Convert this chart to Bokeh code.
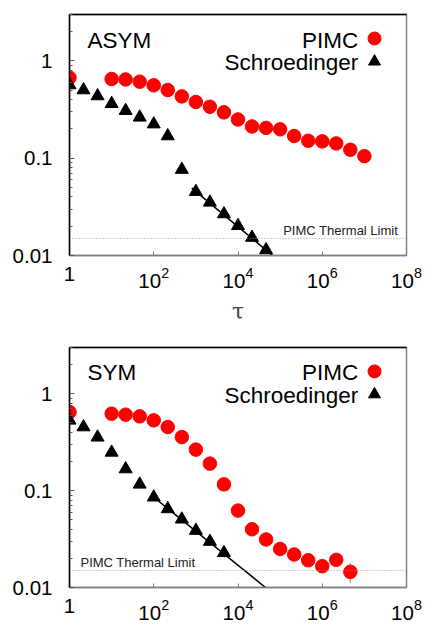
from bokeh.plotting import figure
from bokeh.layouts import column
from bokeh.models import FixedTicker, LogTickFormatter, Span, LinearAxis
from bokeh.core.properties import value
from bokeh.embed import file_html
from bokeh.resources import INLINE

FONT = "Liberation Sans"

# ---------------- data ----------------
tau_pimc_asym = [1, 10, 21.5, 46.4, 100, 215, 464, 1000, 2150, 4640, 1e4, 2.15e4,
                 4.64e4, 1e5, 2.15e5, 4.64e5, 1e6, 2.15e6, 4.64e6, 1e7]
pimc_asym = [0.673, 0.652, 0.645, 0.612, 0.561, 0.502, 0.432, 0.378, 0.338, 0.296,
             0.250, 0.212, 0.205, 0.198, 0.169, 0.151, 0.149, 0.142, 0.122, 0.105]

tau_sch_asym = [1, 2.15, 4.64, 10, 21.5, 46.4, 100, 215, 464, 1000, 2150, 4640,
                1e4, 2.15e4, 4.64e4]
sch_asym = [0.566, 0.502, 0.436, 0.363, 0.308, 0.263, 0.224, 0.169, 0.0764,
            0.0453, 0.0352, 0.0267, 0.0202, 0.0153, 0.0114]
fit_tau_asym = [800, 6.6e4]
fit_asym = [0.0492, 0.0100]

tau_pimc_sym = [1, 10, 21.5, 46.4, 100, 215, 464, 1000, 2150, 4640, 1e4, 2.15e4,
                4.64e4, 1e5, 2.15e5, 4.64e5, 1e6, 2.15e6, 4.64e6]
pimc_sym = [0.647, 0.622, 0.608, 0.584, 0.531, 0.453, 0.357, 0.265, 0.190, 0.116,
            0.0622, 0.0399, 0.0313, 0.0250, 0.0219, 0.0191, 0.0166, 0.0193, 0.0145]
pimc_sym_err = [0, 0, 0, 0, 0, 0, 0, 0, 0, 0, 0, 0, 0, 0, 0, 0.0008, 0.0012,
                0.0024, 0.0033]

tau_sch_sym = [1, 2.15, 4.64, 10, 21.5, 46.4, 100, 215, 464, 1000, 2150, 4640]
sch_sym = [0.531, 0.453, 0.355, 0.248, 0.167, 0.116, 0.0854, 0.0647, 0.0506,
           0.0387, 0.0298, 0.0228]
fit_tau_sym = [100, 4.5e4]
fit_sym = [0.0854, 0.0100]

thermal_limit = 0.015
x_ticks = [1, 1e2, 1e4, 1e6, 1e8]
y_ticks = [0.01, 0.1, 1]
y_minor = [m * d for d in (0.01, 0.1, 1) for m in range(2, 10)]
y_labels = {0.01: "0.01", 0.1: "0.1", 1: "1"}


def make_panel(name, tau_p, val_p, err_p, tau_s, val_s, fit_t, fit_v,
               limit_x, limit_align, height, top, bottom, xlabel):
    p = figure(width=430, height=height, x_axis_type="log", y_axis_type="log",
               x_range=(1, 1e8), y_range=(0.01, 3.0),
               output_backend="svg", toolbar_location=None,
               min_border_left=69, min_border_right=24,
               min_border_top=top, min_border_bottom=bottom)
    p.grid.visible = False
    p.background_fill_color = "white"
    p.border_fill_color = "white"
    p.outline_line_color = "#808080"
    p.outline_line_width = 1.5

    xa = p.xaxis[0]
    xa.ticker = FixedTicker(ticks=x_ticks, minor_ticks=[])
    xa.formatter = LogTickFormatter(min_exponent=1)
    xa.major_tick_in = 4
    xa.major_tick_out = 0
    xa.major_tick_line_color = "#808080"
    xa.axis_line_color = "#808080"
    xa.axis_line_width = 1.5
    xa.major_label_text_font = FONT
    xa.major_label_text_font_size = "20.5px"
    xa.major_label_text_color = "black"
    xa.major_label_standoff = 11
    if xlabel:
        xa.axis_label = xlabel
        xa.axis_label_text_font = "DejaVu Serif"
        xa.axis_label_text_font_style = "normal"
        xa.axis_label_text_font_size = "22px"
        xa.axis_label_standoff = 8

    ya = p.yaxis[0]
    ya.ticker = FixedTicker(ticks=y_ticks, minor_ticks=y_minor)
    ya.major_label_overrides = y_labels
    ya.major_tick_in = 5
    ya.major_tick_out = 0
    ya.minor_tick_in = 3
    ya.minor_tick_out = 0
    ya.major_tick_line_color = "#555555"
    ya.minor_tick_line_color = "#555555"
    ya.axis_line_color = "black"
    ya.axis_line_width = 1.5
    ya.major_label_text_font = FONT
    ya.major_label_text_font_size = "20.5px"
    ya.major_label_text_color = "black"
    ya.major_label_standoff = 17

    top_axis = LinearAxis(ticker=FixedTicker(ticks=[]), axis_line_color="black",
                          axis_line_width=1.5, major_tick_line_color=None,
                          minor_tick_line_color=None,
                          major_label_text_font_size="0px")
    p.add_layout(top_axis, "above")

    p.add_layout(Span(location=thermal_limit, dimension="width",
                      line_color="#999999", line_dash="1 2", line_width=1))
    p.text(x=[limit_x], y=[0.0180], text=["PIMC Thermal Limit"],
           text_font=value(FONT), text_font_size="13px", text_color="#222222",
           text_align=limit_align, text_baseline="alphabetic")

    p.line(fit_t, fit_v, line_color="black", line_width=1.5)

    if err_p is not None:
        lo = [v - e for v, e in zip(val_p, err_p)]
        hi = [v + e for v, e in zip(val_p, err_p)]
        p.segment(x0=tau_p, y0=lo, x1=tau_p, y1=hi, line_color="#ff6666",
                  line_width=1.2)
    p.scatter(tau_p, val_p, marker="circle", size=13.5, fill_color="#ff0000",
              line_color="#ff0000")
    p.scatter(tau_s, val_s, marker="triangle", size=13, fill_color="black",
              line_color="black")

    # panel name and legend
    p.text(x=[2.67], y=[1.64], text=[name], text_font=value(FONT),
           text_font_size="22.5px", text_align="left", text_baseline="alphabetic")
    p.text(x=[7.2e6, 7.2e6], y=[1.64, 0.96], text=["PIMC", "Schroedinger"],
           text_font=value(FONT), text_font_size="22.5px", text_align="right",
           text_baseline="alphabetic")
    p.scatter([1.74e7], [1.70], marker="circle", size=13, fill_color="#ff0000",
              line_color="#ff0000")
    p.scatter([1.74e7], [0.985], marker="triangle", size=12, fill_color="black",
              line_color="black")
    return p


p1 = make_panel("ASYM", tau_pimc_asym, pimc_asym, None, tau_sch_asym, sch_asym,
                fit_tau_asym, fit_asym, 6.3e7, "right", 335, 14, 80, "τ")
p2 = make_panel("SYM", tau_pimc_sym, pimc_sym, pimc_sym_err, tau_sch_sym, sch_sym,
                fit_tau_sym, fit_sym, 1.82, "left", 299, 12, 47, None)

layout = column(p1, p2, spacing=0)
open("out.html", "w").write(file_html(layout, INLINE))
